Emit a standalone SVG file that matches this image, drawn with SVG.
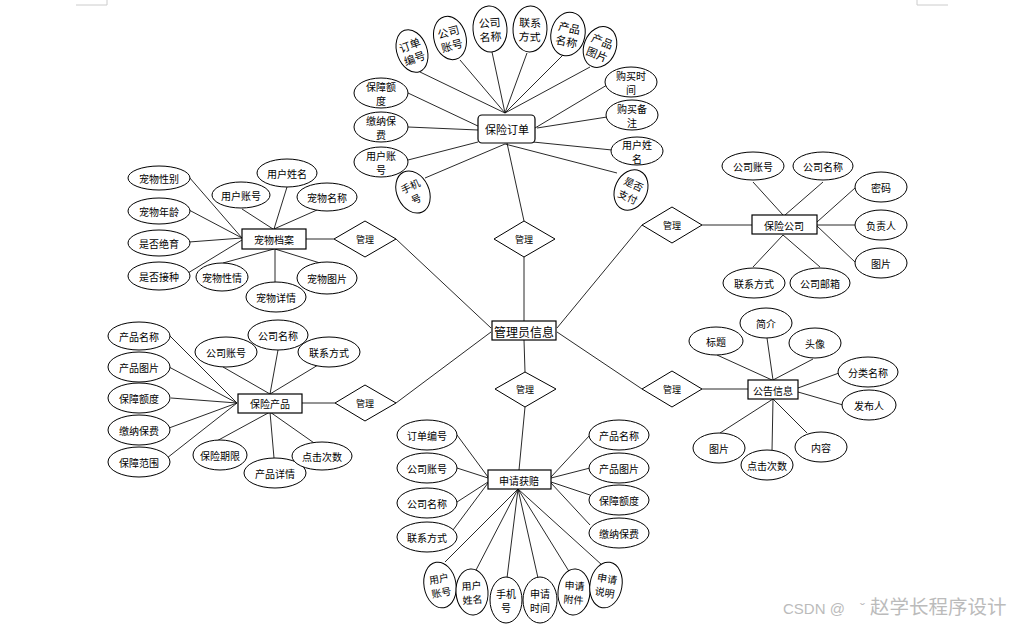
<svg xmlns="http://www.w3.org/2000/svg" width="1016" height="627" viewBox="0 0 1016 627">
<style>
.e{fill:#fff;stroke:#000;stroke-width:1}
.r{fill:#fff;stroke:#000;stroke-width:1.2}
.d{fill:#fff;stroke:#000;stroke-width:1}
.l{stroke:#111;stroke-width:0.9;fill:none}
.m{stroke:#ccc;stroke-width:1;fill:none}
text{font-family:"Noto Sans CJK SC","Noto Sans",sans-serif;font-size:10px;text-anchor:middle;dominant-baseline:central;fill:#000}
.t11{font-size:11px}
.t9{font-size:9px}
.big{font-size:12px}
.wm{font-family:"Liberation Sans","Noto Sans CJK SC",sans-serif;font-size:15px;fill:#bbb;text-anchor:start;dominant-baseline:alphabetic}
.wc{font-size:19.5px}
</style>
<rect width="1016" height="627" fill="#fff"/>
<path class="m" d="M76 5H107V0M948 5H917V0"/>
<g id="connectors">
<path class="l" d="M524 321V257M524 221L507 143M491 328L396 239M491 332L396 403M557 328L642 225M557 332L642 389M524 340L525 372M525 407L519 470"/>
<path class="l" d="M306 239H334M302 403H335M702 225H752M702 389H748" stroke-width="1.3"/>
<path class="l" d="M505 113L420 72M505 113L460 60M505 113L492 52M505 113L527 53M505 113L563 55M505 113L590 67M408 93L480 127M408 127L478 130M408 160L478 142M425 178L505 144M607 85L535 128M607 117L537 128M612 150L533 142M617 173L505 144"/>
<path class="l" d="M189 177L242 238M189 210L242 238M189 242L242 238M188 273L242 240M242 209L273 229M287 187L274 229M317 210L274 229M223 263L274 249M275 283L275 249M320 263L275 249"/>
<path class="l" d="M169 335L237 403M169 367L237 403M171 398L237 403M169 428L237 403M167 458L237 403M223 367L270 394M278 350L270 394M318 365L270 394M213 443L270 412M274 458L270 412M317 445L270 412"/>
<path class="l" d="M753 182L783 215M823 182L785 215M855 188L817 222M855 225L817 225M855 262L817 226M753 267L783 235M820 267L783 235"/>
<path class="l" d="M717 355L772 380M767 338L773 380M813 359L773 380M839 373L798 388M843 405L798 392M720 433L773 399M772 451L773 399M807 433L773 399"/>
<path class="l" d="M457 435L488 477M457 468L488 478M457 502L488 482M453 530L488 483M590 435L551 477M590 468L551 478M590 495L551 482M590 525L551 483M518 489L445 562M518 489L475 572M518 489L507 578M518 489L538 578M518 489L570 573M518 489L602 565"/>
</g>

<g id="admin"><rect class="r" x="492" y="321" width="64" height="19"/><text class="big" x="524" y="331">管理员信息</text></g>

<g id="rel-top"><path class="d" d="M524 221L555 239L524 257L494 239Z"/><text class="t9" x="524" y="239">管理</text></g>
<g id="rel-bottom"><path class="d" d="M525 372L556 389L525 407L495 389Z"/><text class="t9" x="525" y="389">管理</text></g>
<g id="rel-lefttop"><path class="d" d="M365 221L396 239L365 257L334 239Z"/><text class="t9" x="365" y="239">管理</text></g>
<g id="rel-leftbottom"><path class="d" d="M365 385L396 403L365 421L335 403Z"/><text class="t9" x="365" y="403">管理</text></g>
<g id="rel-righttop"><path class="d" d="M672 207L702 225L672 243L642 225Z"/><text class="t9" x="672" y="225">管理</text></g>
<g id="rel-rightbottom"><path class="d" d="M672 371L702 389L672 407L642 389Z"/><text class="t9" x="672" y="389">管理</text></g>

<g id="order"><rect class="r" x="478" y="115" width="57" height="28" rx="4"/><text class="t11" x="507" y="129">保险订单</text></g>
<g id="o-ddbh" transform="translate(412,51) rotate(-20)"><ellipse class="e" rx="15" ry="22"/><text class="t11" y="-7">订单</text><text class="t11" y="7">编号</text></g>
<g id="o-gszh" transform="translate(450,38) rotate(-15)"><ellipse class="e" rx="16" ry="22"/><text class="t11" y="-7">公司</text><text class="t11" y="7">账号</text></g>
<g id="o-gsmc" transform="translate(490,29) rotate(-4)"><ellipse class="e" rx="17" ry="23"/><text class="t11" y="-7">公司</text><text class="t11" y="7">名称</text></g>
<g id="o-lxfs" transform="translate(530,29) rotate(2)"><ellipse class="e" rx="17" ry="23"/><text class="t11" y="-7">联系</text><text class="t11" y="7">方式</text></g>
<g id="o-cpmc" transform="translate(568,34) rotate(12)"><ellipse class="e" rx="17" ry="22"/><text class="t11" y="-7">产品</text><text class="t11" y="7">名称</text></g>
<g id="o-cptp" transform="translate(600,47) rotate(22)"><ellipse class="e" rx="16" ry="21"/><text class="t11" y="-7">产品</text><text class="t11" y="7">图片</text></g>
<g id="o-bzed"><ellipse class="e" cx="381" cy="93" rx="27" ry="15"/><text x="381" y="86">保障额</text><text x="381" y="100">度</text></g>
<g id="o-jnbf"><ellipse class="e" cx="381" cy="127" rx="27" ry="15"/><text x="381" y="120">缴纳保</text><text x="381" y="134">费</text></g>
<g id="o-yhzh"><ellipse class="e" cx="381" cy="162" rx="27" ry="15"/><text x="381" y="155">用户账</text><text x="381" y="169">号</text></g>
<g id="o-sjh" transform="translate(413,192) rotate(-25)"><ellipse class="e" rx="16" ry="22"/><text y="-7">手机</text><text y="7">号</text></g>
<g id="o-gmsj"><ellipse class="e" cx="631" cy="82" rx="26" ry="15"/><text x="631" y="75">购买时</text><text x="631" y="89">间</text></g>
<g id="o-gmbz"><ellipse class="e" cx="632" cy="115" rx="26" ry="15"/><text x="632" y="108">购买备</text><text x="632" y="122">注</text></g>
<g id="o-yhxm"><ellipse class="e" cx="637" cy="151" rx="26" ry="14"/><text x="637" y="144">用户姓</text><text x="637" y="158">名</text></g>
<g id="o-sfzf" transform="translate(631,190) rotate(25)"><ellipse class="e" rx="16" ry="21"/><text y="-7">是否</text><text y="7">支付</text></g>

<g id="pet"><rect class="r" x="242" y="229" width="64" height="20" stroke-width="1.6" stroke="#333"/><text x="274" y="239">宠物档案</text></g>
<g id="p-xb"><ellipse class="e" cx="159" cy="178" rx="31" ry="12"/><text x="159" y="178">宠物性别</text></g>
<g id="p-nl"><ellipse class="e" cx="159" cy="211" rx="31" ry="13"/><text x="159" y="211">宠物年龄</text></g>
<g id="p-jy"><ellipse class="e" cx="159" cy="243" rx="31" ry="13"/><text x="159" y="243">是否绝育</text></g>
<g id="p-jz"><ellipse class="e" cx="159" cy="276" rx="31" ry="14"/><text x="159" y="276">是否接种</text></g>
<g id="p-yhzh"><ellipse class="e" cx="241" cy="195" rx="29" ry="13"/><text x="241" y="195">用户账号</text></g>
<g id="p-yhxm"><ellipse class="e" cx="287" cy="173" rx="30" ry="14"/><text x="287" y="173">用户姓名</text></g>
<g id="p-cwmc"><ellipse class="e" cx="327" cy="197" rx="30" ry="14"/><text x="327" y="197">宠物名称</text></g>
<g id="p-xq"><ellipse class="e" cx="222" cy="277" rx="26" ry="14"/><text x="222" y="277">宠物性情</text></g>
<g id="p-xiangq"><ellipse class="e" cx="276" cy="297" rx="30" ry="15"/><text x="276" y="297">宠物详情</text></g>
<g id="p-tp"><ellipse class="e" cx="327" cy="278" rx="30" ry="16"/><text x="327" y="278">宠物图片</text></g>

<g id="product"><rect class="r" x="238" y="394" width="64" height="19"/><text x="270" y="403">保险产品</text></g>
<g id="pr-cpmc"><ellipse class="e" cx="139" cy="336" rx="31" ry="14"/><text x="139" y="336">产品名称</text></g>
<g id="pr-cptp"><ellipse class="e" cx="139" cy="367" rx="31" ry="15"/><text x="139" y="367">产品图片</text></g>
<g id="pr-bzed"><ellipse class="e" cx="139" cy="398" rx="31" ry="15"/><text x="139" y="398">保障额度</text></g>
<g id="pr-jnbf"><ellipse class="e" cx="139" cy="430" rx="31" ry="15"/><text x="139" y="430">缴纳保费</text></g>
<g id="pr-bzfw"><ellipse class="e" cx="139" cy="462" rx="31" ry="15"/><text x="139" y="462">保障范围</text></g>
<g id="pr-gszh"><ellipse class="e" cx="226" cy="352" rx="31" ry="15"/><text x="226" y="352">公司账号</text></g>
<g id="pr-gsmc"><ellipse class="e" cx="278" cy="335" rx="30" ry="15"/><text x="278" y="335">公司名称</text></g>
<g id="pr-lxfs"><ellipse class="e" cx="329" cy="352" rx="31" ry="15"/><text x="329" y="352">联系方式</text></g>
<g id="pr-bxqx"><ellipse class="e" cx="220" cy="455" rx="27" ry="15"/><text x="220" y="455">保险期限</text></g>
<g id="pr-cpxq"><ellipse class="e" cx="275" cy="473" rx="31" ry="15"/><text x="275" y="473">产品详情</text></g>
<g id="pr-djcs"><ellipse class="e" cx="322" cy="456" rx="30" ry="14"/><text x="322" y="456">点击次数</text></g>

<g id="company"><rect class="r" x="752" y="215" width="65" height="19"/><text x="784" y="225">保险公司</text></g>
<g id="c-gszh"><ellipse class="e" cx="753" cy="166" rx="31" ry="14"/><text x="753" y="166">公司账号</text></g>
<g id="c-gsmc"><ellipse class="e" cx="823" cy="166" rx="30" ry="14"/><text x="823" y="166">公司名称</text></g>
<g id="c-mm"><ellipse class="e" cx="881" cy="187" rx="26" ry="15"/><text x="881" y="187">密码</text></g>
<g id="c-fzr"><ellipse class="e" cx="881" cy="225" rx="26" ry="15"/><text x="881" y="225">负责人</text></g>
<g id="c-tp"><ellipse class="e" cx="881" cy="263" rx="26" ry="15"/><text x="881" y="263">图片</text></g>
<g id="c-lxfs"><ellipse class="e" cx="754" cy="283" rx="31" ry="15"/><text x="754" y="283">联系方式</text></g>
<g id="c-gsyx"><ellipse class="e" cx="820" cy="283" rx="30" ry="15"/><text x="820" y="283">公司邮箱</text></g>

<g id="notice"><rect class="r" x="748" y="380" width="50" height="19"/><text x="773" y="390">公告信息</text></g>
<g id="n-bt"><ellipse class="e" cx="716" cy="341" rx="27" ry="14"/><text x="716" y="341">标题</text></g>
<g id="n-jj"><ellipse class="e" cx="766" cy="323" rx="26" ry="15"/><text x="766" y="323">简介</text></g>
<g id="n-tx"><ellipse class="e" cx="815" cy="343" rx="26" ry="15"/><text x="815" y="343">头像</text></g>
<g id="n-flmc"><ellipse class="e" cx="868" cy="372" rx="30" ry="15"/><text x="868" y="372">分类名称</text></g>
<g id="n-fbr"><ellipse class="e" cx="869" cy="405" rx="27" ry="15"/><text x="869" y="405">发布人</text></g>
<g id="n-tp"><ellipse class="e" cx="719" cy="448" rx="26" ry="15"/><text x="719" y="448">图片</text></g>
<g id="n-djcs"><ellipse class="e" cx="767" cy="465" rx="26" ry="15"/><text x="767" y="465">点击次数</text></g>
<g id="n-nr"><ellipse class="e" cx="821" cy="447" rx="26" ry="15"/><text x="821" y="447">内容</text></g>

<g id="claim"><rect class="r" x="488" y="470" width="63" height="19"/><text x="519" y="480">申请获赔</text></g>
<g id="cl-ddbh"><ellipse class="e" cx="427" cy="435" rx="30" ry="15"/><text x="427" y="435">订单编号</text></g>
<g id="cl-gszh"><ellipse class="e" cx="427" cy="468" rx="30" ry="15"/><text x="427" y="468">公司账号</text></g>
<g id="cl-gsmc"><ellipse class="e" cx="427" cy="503" rx="30" ry="15"/><text x="427" y="503">公司名称</text></g>
<g id="cl-lxfs"><ellipse class="e" cx="427" cy="537" rx="30" ry="15"/><text x="427" y="537">联系方式</text></g>
<g id="cl-cpmc"><ellipse class="e" cx="619" cy="435" rx="30" ry="15"/><text x="619" y="435">产品名称</text></g>
<g id="cl-cptp"><ellipse class="e" cx="619" cy="468" rx="30" ry="15"/><text x="619" y="468">产品图片</text></g>
<g id="cl-bzed"><ellipse class="e" cx="619" cy="500" rx="30" ry="15"/><text x="619" y="500">保障额度</text></g>
<g id="cl-jnbf"><ellipse class="e" cx="619" cy="533" rx="30" ry="15"/><text x="619" y="533">缴纳保费</text></g>
<g id="cl-yhzh" transform="translate(440,585) rotate(-10)"><ellipse class="e" rx="16" ry="23"/><text y="-7">用户</text><text y="7">账号</text></g>
<g id="cl-yhxm" transform="translate(472,592) rotate(-4)"><ellipse class="e" rx="16" ry="23"/><text y="-7">用户</text><text y="7">姓名</text></g>
<g id="cl-sjh" transform="translate(506,600)"><ellipse class="e" rx="16" ry="23"/><text y="-7">手机</text><text y="7">号</text></g>
<g id="cl-sqsj" transform="translate(540,600)"><ellipse class="e" rx="17" ry="23"/><text y="-7">申请</text><text y="7">时间</text></g>
<g id="cl-sqfj" transform="translate(574,592) rotate(4)"><ellipse class="e" rx="16" ry="23"/><text y="-7">申请</text><text y="7">附件</text></g>
<g id="cl-sqsm" transform="translate(606,585) rotate(10)"><ellipse class="e" rx="16" ry="23"/><text y="-7">申请</text><text y="7">说明</text></g>

<text class="wm" x="783" y="614">CSDN @ <tspan x="860">ˇ</tspan><tspan class="wc" x="870">赵学长程序设计</tspan></text>
</svg>
